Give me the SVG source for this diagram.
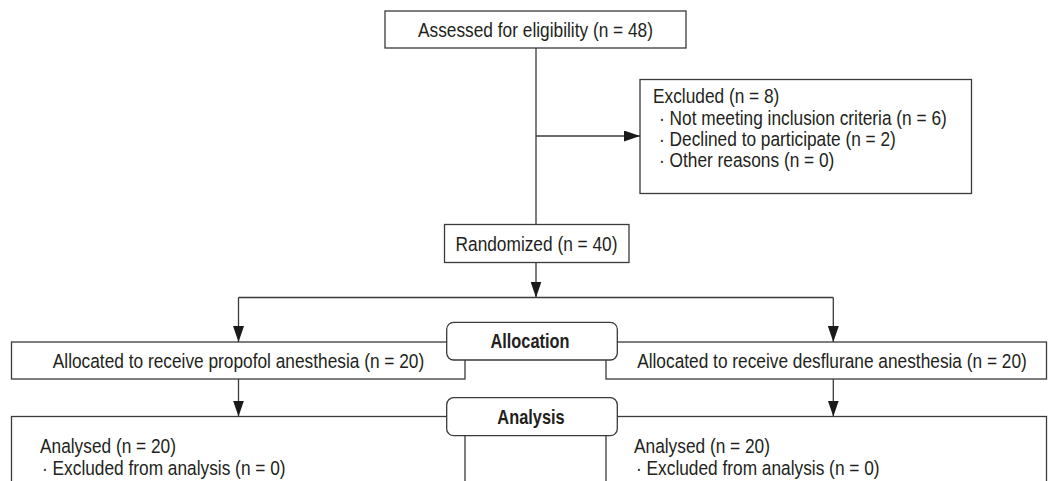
<svg xmlns="http://www.w3.org/2000/svg" width="1048" height="481" viewBox="0 0 1048 481">
<style>
.box{fill:#fff;stroke:#3a3a3a;stroke-width:1.3}
.stage{fill:#fff;stroke:#3a3a3a;stroke-width:1.3}
.line{fill:none;stroke:#3a3a3a;stroke-width:1.3}
text{font-family:"Liberation Sans",Arial,sans-serif;font-size:19.5px;fill:#231f20}
.c{text-anchor:middle}
.b{font-weight:bold}
</style>
<defs>
<marker id="arr" markerUnits="userSpaceOnUse" markerWidth="16" markerHeight="11" refX="16" refY="5.5" orient="auto">
<path d="M0,0 L16,5.5 L0,11 z" fill="#1a1a1a"/>
</marker>
</defs>
<rect width="1048" height="481" fill="#fff"/>
<g id="assessed">
<rect class="box" x="385" y="11" width="301" height="37"/>
<text class="c" transform="translate(535.5,37) scale(0.887,1)">Assessed for eligibility (n = 48)</text>
</g>
<g id="excluded">
<rect class="box" x="640" y="79.5" width="331.5" height="114"/>
<text transform="translate(653,103) scale(0.887,1)">Excluded (n = 8)</text>
<text transform="translate(659,124.5) scale(0.887,1)">· Not meeting inclusion criteria (n = 6)</text>
<text transform="translate(659,145.5) scale(0.887,1)">· Declined to participate (n = 2)</text>
<text transform="translate(659,166.5) scale(0.887,1)">· Other reasons (n = 0)</text>
</g>
<g id="randomized">
<rect class="box" x="444.5" y="224.5" width="184.5" height="38"/>
<text class="c" transform="translate(536.5,250.5) scale(0.887,1)">Randomized (n = 40)</text>
</g>
<g id="alloc-propofol">
<rect class="box" x="11.5" y="342" width="453.5" height="37"/>
<text class="c" transform="translate(238.5,367.5) scale(0.887,1)">Allocated to receive propofol anesthesia (n = 20)</text>
</g>
<g id="alloc-desflurane">
<rect class="box" x="606" y="342" width="440.5" height="37"/>
<text class="c" transform="translate(832,367.5) scale(0.887,1)">Allocated to receive desflurane anesthesia (n = 20)</text>
</g>
<g id="analysed-propofol">
<rect class="box" x="11.5" y="416.5" width="453.5" height="90"/>
<text transform="translate(40,453) scale(0.887,1)">Analysed (n = 20)</text>
<text transform="translate(42,474.5) scale(0.887,1)">· Excluded from analysis (n = 0)</text>
</g>
<g id="analysed-desflurane">
<rect class="box" x="606" y="416.5" width="440.5" height="90"/>
<text transform="translate(634,453) scale(0.887,1)">Analysed (n = 20)</text>
<text transform="translate(636,474.5) scale(0.887,1)">· Excluded from analysis (n = 0)</text>
</g>
<g id="connectors">
<line class="line" x1="536" y1="48" x2="536" y2="224.5"/>
<line class="line" x1="536" y1="136" x2="640" y2="136" marker-end="url(#arr)"/>
<line class="line" x1="536" y1="262.5" x2="536" y2="297.5" marker-end="url(#arr)"/>
<line class="line" x1="238.5" y1="297.5" x2="833.3" y2="297.5"/>
<line class="line" x1="238.5" y1="297.5" x2="238.5" y2="342" marker-end="url(#arr)"/>
<line class="line" x1="833.3" y1="297.5" x2="833.3" y2="342" marker-end="url(#arr)"/>
<line class="line" x1="238.5" y1="379" x2="238.5" y2="416.5" marker-end="url(#arr)"/>
<line class="line" x1="833.3" y1="379" x2="833.3" y2="416.5" marker-end="url(#arr)"/>
</g>
<g id="allocation">
<rect class="stage" x="446.7" y="322.3" width="170.6" height="37.7" rx="7"/>
<text class="c b" transform="translate(530,348) scale(0.84,1)">Allocation</text>
</g>
<g id="analysis">
<rect class="stage" x="446.7" y="397.7" width="170.6" height="38" rx="7"/>
<text class="c b" transform="translate(531,423.5) scale(0.84,1)">Analysis</text>
</g>
</svg>
